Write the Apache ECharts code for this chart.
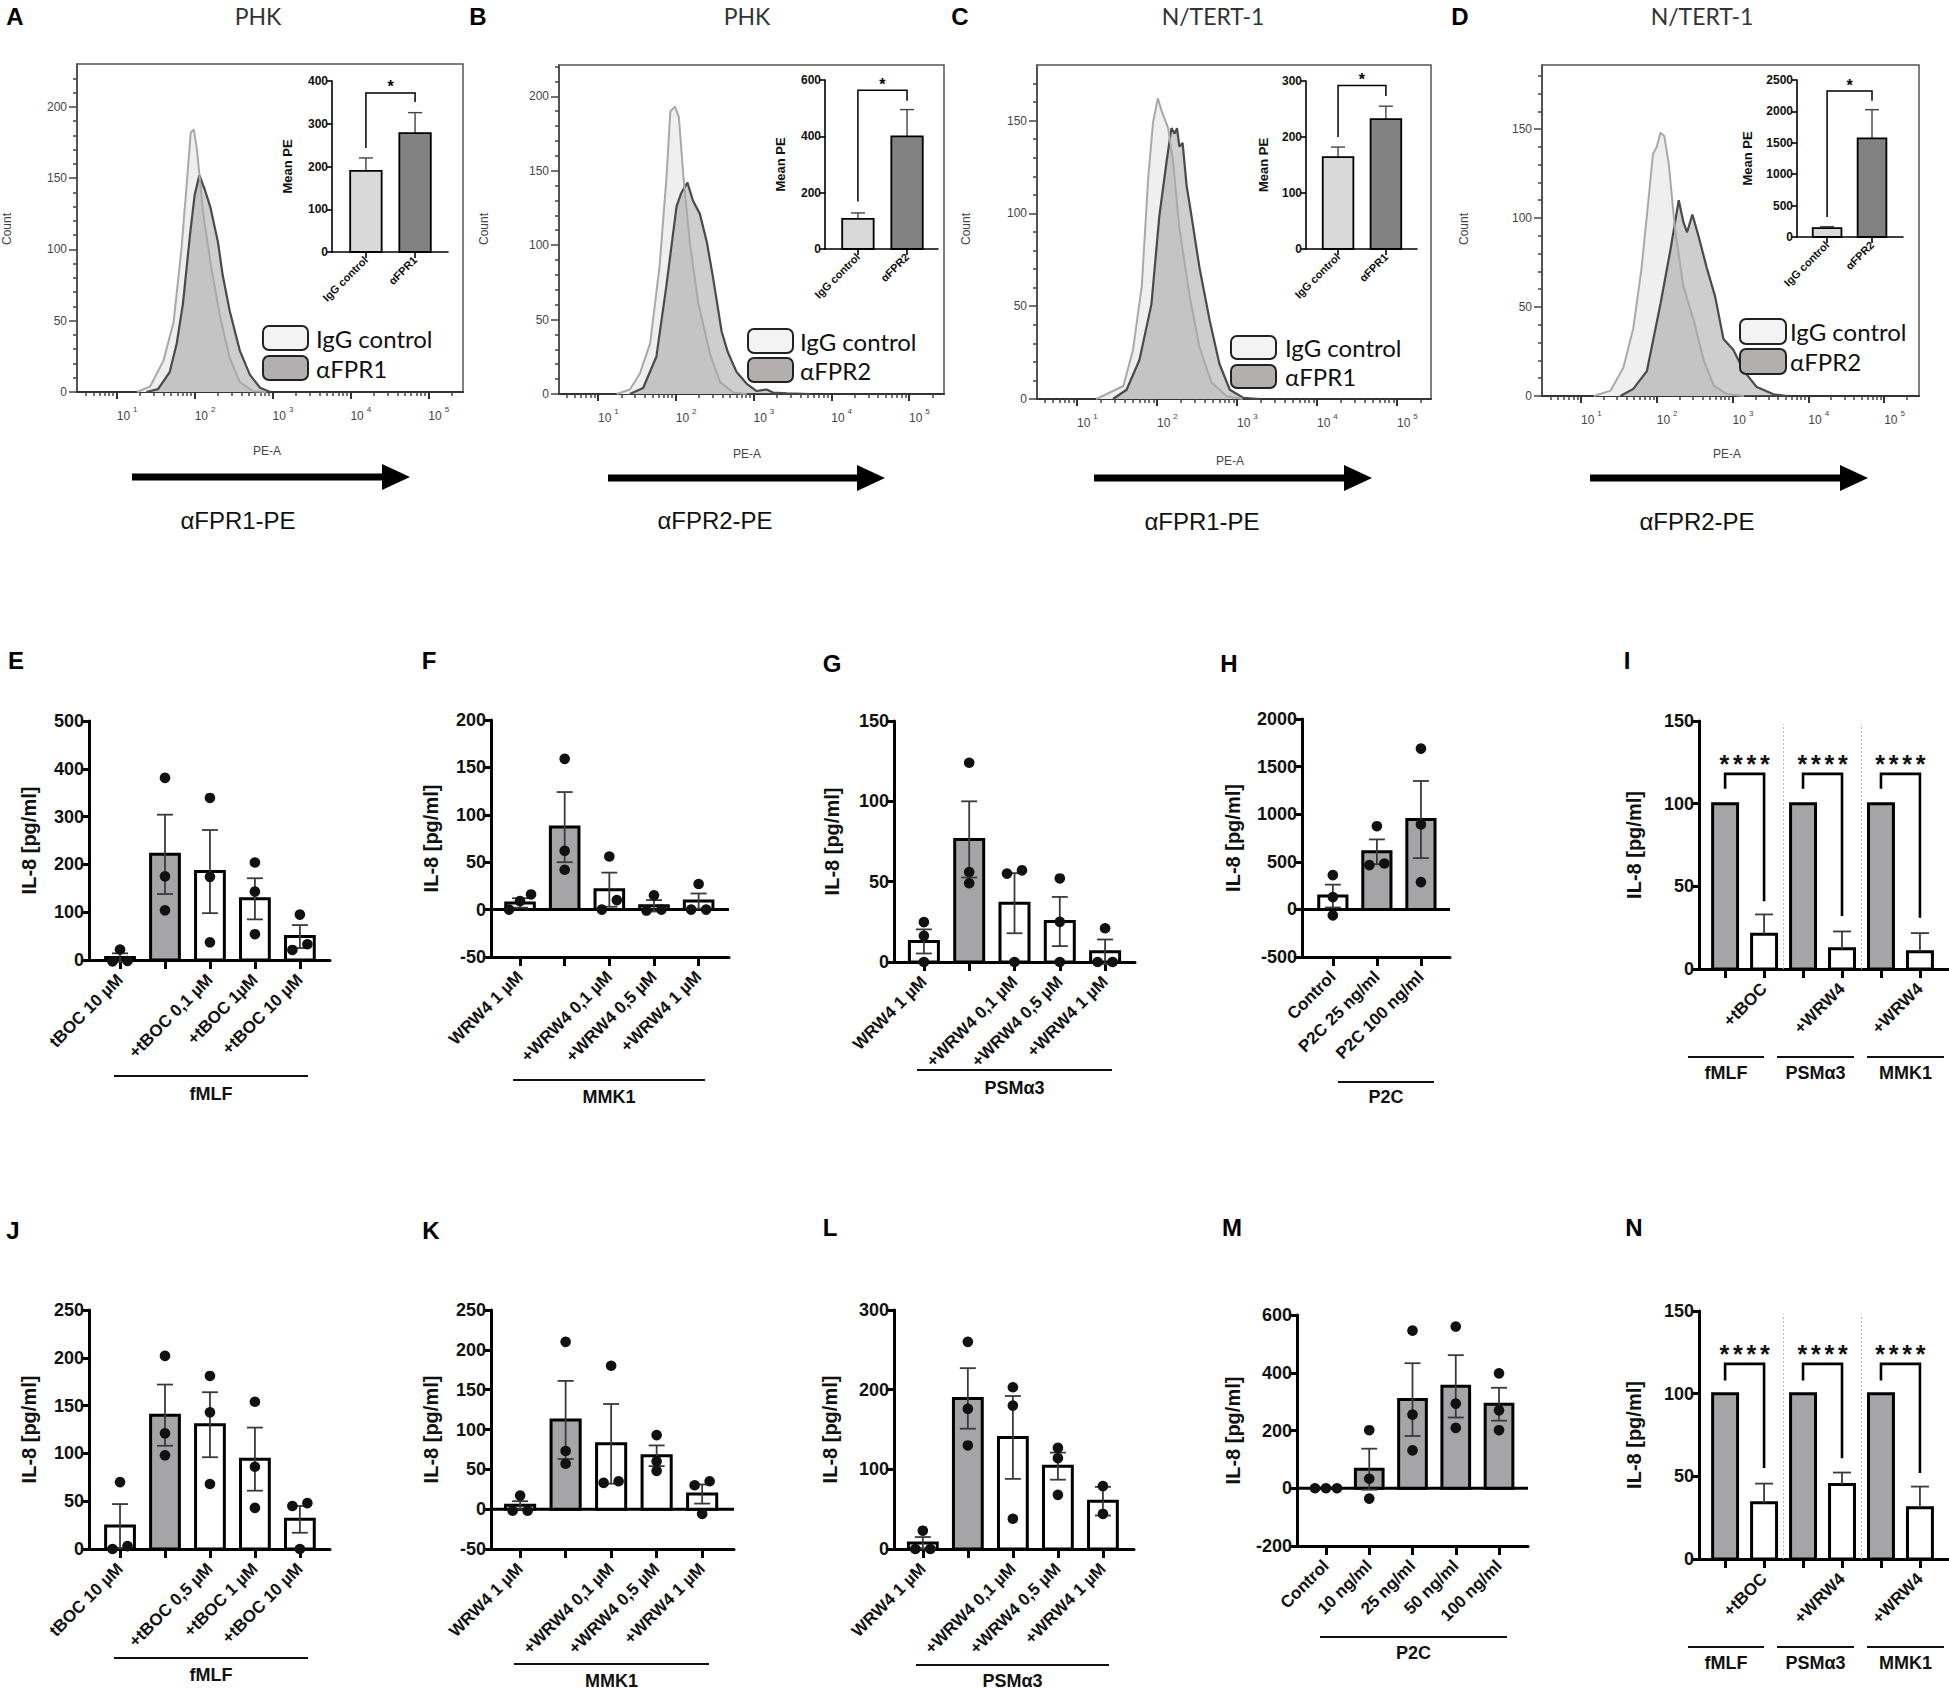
<!DOCTYPE html>
<html><head><meta charset="utf-8">
<script src="https://cdn.jsdelivr.net/npm/echarts@6/dist/echarts.min.js"></script>
<style>html,body{margin:0;padding:0;background:#fff}#c{width:1949px;height:1694px}</style>
</head><body><div id="c"></div>
<script>
// ================= DATA =================
// Flow-cytometry histograms: [log10(PE-A), Count]
const histA_IgG  = [[1.26,0],[1.43,4],[1.6,22],[1.73,49],[1.83,100],[1.89,140],[1.95,182],[1.99,184],[2.03,170],[2.11,125],[2.22,85],[2.33,52],[2.45,24],[2.58,7],[2.75,0.5],[2.92,0]];
const histA_FPR1 = [[1.38,0],[1.53,2],[1.68,14],[1.77,34],[1.85,62],[1.94,110],[2.0,138],[2.06,152],[2.13,142],[2.2,130],[2.3,105],[2.36,82],[2.45,57],[2.58,29],[2.71,12],[2.84,3],[2.97,0]];
const histB_IgG  = [[1.24,0],[1.41,3],[1.54,14],[1.67,34],[1.79,85],[1.88,145],[1.93,190],[1.99,193],[2.04,186],[2.1,145],[2.18,102],[2.29,61],[2.44,27],[2.57,8],[2.74,1],[2.91,0]];
const histB_FPR2 = [[1.41,0],[1.58,4],[1.75,25],[1.88,73],[2.01,126],[2.07,135],[2.15,142],[2.22,130],[2.31,121],[2.4,102],[2.48,78],[2.59,42],[2.67,28],[2.78,15],[2.91,7],[3.04,2],[3.17,3],[3.25,1],[3.43,0.5],[3.73,0]];
const histC_IgG  = [[1.24,0],[1.41,3.5],[1.58,7],[1.7,26.5],[1.81,61],[1.89,119],[1.95,149],[2.01,162],[2.06,155],[2.14,146],[2.2,128],[2.28,92],[2.41,55],[2.53,28],[2.68,9],[2.87,1.5],[3.07,0]];
const histC_FPR1 = [[1.45,0],[1.62,5],[1.78,21],[1.93,51],[2.03,99],[2.12,128],[2.18,146],[2.22,143],[2.25,146],[2.28,136],[2.32,138],[2.37,115],[2.43,99],[2.53,71],[2.66,42],[2.78,19],[2.91,5],[3.08,0.6],[3.28,0]];
const histD_IgG  = [[1.17,0],[1.39,3],[1.56,16],[1.69,38],[1.8,72],[1.89,110],[1.95,136],[2.0,140],[2.05,148],[2.1,146],[2.16,130],[2.24,94],[2.35,62],[2.49,42],[2.62,20],[2.75,6],[2.93,1],[3.15,0]];
const histD_FPR2 = [[1.52,0],[1.69,4],[1.87,14],[2.05,52],[2.18,82],[2.29,110],[2.35,98],[2.4,92],[2.47,102],[2.55,90],[2.66,72],[2.77,56],[2.88,32],[3.01,26],[3.15,14],[3.32,5],[3.54,1],[3.72,0]];
const histDecades = [1, 2, 3, 4, 5];
const histYTicksAB = [0, 50, 100, 150, 200];
const histYTicksCD = [0, 50, 100, 150];

// Inset bar charts (Mean PE)
const insetA_categories = ['IgG control', 'αFPR1'];
const insetA_mean = [190, 278];
const insetA_err = [30, 48];
const insetA_sig = [372, 243, 351];
const insetB_categories = ['IgG control', 'αFPR2'];
const insetB_mean = [107, 400];
const insetB_err = [21, 95];
const insetB_sig = [564, 169, 526];
const insetC_categories = ['IgG control', 'αFPR1'];
const insetC_mean = [164, 232];
const insetC_err = [18, 23];
const insetC_sig = [292, 200, 273];
const insetD_categories = ['IgG control', 'αFPR2'];
const insetD_mean = [140, 1572];
const insetD_err = [25, 455];
const insetD_sig = [2323, 319, 2170];

// IL-8 bar charts
const E_categories = ['tBOC 10 µM', '', '+tBOC 0,1 µM', '+tBOC 1µM', '+tBOC 10 µM'];
const E_mean = [5, 221, 185, 128, 49];
const E_sem = [9, 83, 87, 43, 24];
const E_points = [[22, -2, -3], [381, 175, 104], [339, 174, 37], [204, 143, 54], [95, 21, 33]];

const F_categories = ['WRW4 1 µM', '', '+WRW4 0,1 µM', '+WRW4 0,5 µM', '+WRW4 1 µM'];
const F_mean = [7, 87, 21, 4, 9];
const F_sem = [5, 37, 18, 6, 8];
const F_points = [[16, 9, 0], [159, 62, 42], [56, 10, 0], [15, 0, -1], [27, 0, 0]];

const G_categories = ['WRW4 1 µM', '', '+WRW4 0,1 µM', '+WRW4 0,5 µM', '+WRW4 1 µM'];
const G_mean = [12.8, 76.3, 36.6, 25.2, 6.4];
const G_sem = [7.5, 23.7, 18.7, 15.3, 7.6];
const G_points = [[24.8, 16.3, 0], [124, 56, 49], [57, 55, 0], [52, 25, 0], [21, 0, 0]];

const H_categories = ['Control', 'P2C 25 ng/ml', 'P2C 100 ng/ml'];
const H_mean = [140, 605, 944];
const H_sem = [120, 130, 405];
const H_points = [[360, 129, -63], [874, 465, 482], [1689, 892, 287]];

const I_categories = ['', '+tBOC', '', '+WRW4', '', '+WRW4'];
const I_mean = [100, 21, 100, 12.3, 100, 10.5];
const I_sem = [0, 12, 0, 10.4, 0, 11.2];
const I_sig = [[0, 1, 118, 109, 41], [2, 3, 118, 109, 32], [4, 5, 118, 109, 31]];

const J_categories = ['tBOC 10 µM', '', '+tBOC 0,5 µM', '+tBOC 1 µM', '+tBOC 10 µM'];
const J_mean = [24, 140, 130, 94, 31];
const J_sem = [23, 32, 34, 33, 14];
const J_points = [[70, 0, 3], [202, 121, 98], [181, 143, 68], [154, 86, 43], [48, 45, 0]];

const K_categories = ['WRW4 1 µM', '', '+WRW4 0,1 µM', '+WRW4 0,5 µM', '+WRW4 1 µM'];
const K_mean = [5, 112, 82, 67, 19];
const K_sem = [5, 49, 50, 13, 12];
const K_points = [[17, -2, -2], [210, 73, 57], [180, 33, 35], [93, 60, 48], [35, 30, -6]];

const L_categories = ['WRW4 1 µM', '', '+WRW4 0,1 µM', '+WRW4 0,5 µM', '+WRW4 1 µM'];
const L_mean = [7.5, 189, 140, 104, 60];
const L_sem = [7.5, 38, 52, 17, 18];
const L_points = [[23, 0, 0], [260, 176, 130], [203, 180, 38], [127, 114, 68], [79, 44]];

const M_categories = ['Control', '10 ng/ml', '25 ng/ml', '50 ng/ml', '100 ng/ml'];
const M_mean = [0, 66, 307, 353, 291];
const M_sem = [0, 71, 126, 108, 57];
const M_points = [[0, 0, 0], [201, 33, -36], [546, 255, 131], [560, 293, 209], [398, 270, 201]];

const N_categories = ['', '+tBOC', '', '+WRW4', '', '+WRW4'];
const N_mean = [100, 34, 100, 45, 100, 31];
const N_sem = [0, 11.6, 0, 7.3, 0, 12.8];
const N_sig = [[0, 1, 118, 108, 55], [2, 3, 118, 108, 61], [4, 5, 118, 108, 52]];

// ================= STYLE / LAYOUT =================
const FONT = "'Liberation Sans', Arial, Helvetica, sans-serif";
const FONT_C = "Lato, 'Open Sans', 'Noto Sans', sans-serif";
const GRAY = '#a5a5a8';
const option = {animation:false, backgroundColor:'#fff', textStyle:{fontFamily:FONT}, grid:[], xAxis:[], yAxis:[], series:[], graphic:{elements:[]}};
const GE = option.graphic.elements;
const plain = v => String(v);

function txt(x, y, text, font, extra) {
  const el = {type:'text', x:x, y:y, silent:true, z:100,
    style:{text:text, font:font, fill:'#000', align:'center', verticalAlign:'middle', textAlign:'center', textVerticalAlign:'middle'}};
  if (extra) { if (extra.style) Object.assign(el.style, extra.style); if (extra.rotation !== undefined) el.rotation = extra.rotation; }
  GE.push(el);
}
function hline(x1, x2, y, w, color) {
  GE.push({type:'line', silent:true, z:100, shape:{x1:x1, y1:y, x2:x2, y2:y}, style:{stroke:color || '#111', lineWidth:w || 2}});
}
function arrow(x1, x2, y) {
  const hx = x2 - 28;
  GE.push({type:'polygon', silent:true, z:100, shape:{points:[[x1, y-3.5], [hx, y-3.5], [hx, y-13], [x2, y], [hx, y+13], [hx, y+3.5], [x1, y+3.5]]}, style:{fill:'#000'}});
}
function minorLog(min, max) {
  const out = [];
  for (let n = 0; n <= 5; n++) for (let k = 2; k <= 9; k++) { const v = n + Math.log10(k); if (v > min && v < max) out.push(v); }
  return out;
}
function minorLin(max, step, majors) {
  const out = [];
  for (let v = step; v < max; v += step) if (majors.indexOf(v) < 0) out.push(v);
  return out;
}

// ---------- histogram panels ----------
function histPanel(h) {
  const g = option.grid.length;
  option.grid.push({left:h.left, top:h.top, width:h.right - h.left, height:h.bottom - h.top, show:true, borderColor:'#555', borderWidth:1.5, backgroundColor:'rgba(0,0,0,0)'});
  const xi = option.xAxis.length, yi = option.yAxis.length;
  const tickStyle = {color:'#444', width:1.5};
  option.xAxis.push({gridIndex:g, type:'value', min:h.xmin, max:h.xmax, position:'bottom',
    axisLine:{show:true, onZero:false, lineStyle:{color:'#333', width:2}},
    axisTick:{show:true, customValues:histDecades, length:7, lineStyle:{color:'#333', width:2}},
    axisLabel:{show:true, customValues:histDecades, formatter:v => '{b|10}{s|' + v + '}', align:'left', margin:13,
      rich:{b:{fontSize:12, color:'#444', fontFamily:FONT, padding:[5,3,0,0]}, s:{fontSize:8, color:'#444', fontFamily:FONT, verticalAlign:'top'}}},
    splitLine:{show:false}});
  option.xAxis.push({gridIndex:g, type:'value', min:h.xmin, max:h.xmax, position:'bottom',
    axisLine:{show:false}, axisTick:{show:true, customValues:minorLog(h.xmin, h.xmax), length:4, lineStyle:tickStyle},
    axisLabel:{show:false}, splitLine:{show:false}});
  option.yAxis.push({gridIndex:g, type:'value', min:0, max:h.ymax, position:'left',
    axisLine:{show:true, onZero:false, lineStyle:{color:'#444', width:1.5}},
    axisTick:{show:true, customValues:h.yTicks, length:8, lineStyle:tickStyle},
    axisLabel:{show:true, customValues:h.yTicks, fontSize:12, color:'#444', fontFamily:FONT, margin:10},
    splitLine:{show:false}});
  option.yAxis.push({gridIndex:g, type:'value', min:0, max:h.ymax, position:'left',
    axisLine:{show:false}, axisTick:{show:true, customValues:minorLin(h.ymax, 10, h.yTicks), length:4, lineStyle:tickStyle},
    axisLabel:{show:false}, splitLine:{show:false}});
  option.series.push({type:'line', xAxisIndex:xi, yAxisIndex:yi, data:h.igg, symbol:'none', silent:true, z:2,
    lineStyle:{opacity:0}, areaStyle:{color:'#efefef', opacity:1}});
  option.series.push({type:'line', xAxisIndex:xi, yAxisIndex:yi, data:h.fpr, symbol:'none', silent:true, z:3,
    lineStyle:{color:'#4a4a4a', width:2.2}, areaStyle:{color:'rgba(125,125,125,0.38)', opacity:1}});
  option.series.push({type:'line', xAxisIndex:xi, yAxisIndex:yi, data:h.igg, symbol:'none', silent:true, z:4,
    lineStyle:{color:'#a9a9a9', width:2}});
  txt(h.countX, h.countY, 'Count', '12px ' + FONT, {rotation:Math.PI / 2, style:{fill:'#444'}});
  txt(h.peX, h.peY, 'PE-A', '12px ' + FONT, {style:{fill:'#444'}});
  arrow(h.arX1, h.arX2, h.arY);
  txt(h.bigX, h.bigY, h.big, '24px ' + FONT, {style:{fill:'#111'}});
  txt(h.titleX, 16, h.title, '23px ' + FONT_C, {style:{fill:'#333'}});
  const lg = h.legend;
  GE.push({type:'rect', silent:true, z:100, shape:{x:lg.x, y:lg.y1, width:lg.w, height:lg.h, r:6}, style:{fill:'#f3f3f3', stroke:'#222', lineWidth:2}});
  GE.push({type:'rect', silent:true, z:100, shape:{x:lg.x, y:lg.y2, width:lg.w, height:lg.h, r:6}, style:{fill:'#b3afaf', stroke:'#222', lineWidth:2}});
  txt(lg.tx, lg.y1 + lg.h / 2, 'IgG control', '24px ' + FONT_C, {style:{align:'left', textAlign:'left', fill:'#111'}});
  txt(lg.tx, lg.y2 + lg.h / 2, h.legName, '24px ' + FONT_C, {style:{align:'left', textAlign:'left', fill:'#111'}});
}

// ---------- inset bar charts ----------
function insetPanel(q) {
  const g = option.grid.length;
  option.grid.push({left:q.left, top:q.top, width:q.right - q.left, height:q.bottom - q.top});
  const xi = option.xAxis.length, yi = option.yAxis.length;
  option.xAxis.push({gridIndex:g, type:'value', min:q.xmin, max:q.xmax,
    axisLine:{show:true, onZero:false, lineStyle:{color:'#000', width:1.6}},
    axisTick:{show:true, customValues:[0, 1], length:6, lineStyle:{color:'#000', width:1.6}},
    axisLabel:{show:true, customValues:[0, 1], formatter:v => q.cats[Math.round(v)], rotate:45, fontFamily:FONT, fontWeight:'bold', fontSize:11, color:'#111', margin:6},
    splitLine:{show:false}});
  option.yAxis.push({gridIndex:g, type:'value', min:0, max:q.ymax, interval:q.interval,
    axisLine:{show:true, onZero:false, lineStyle:{color:'#000', width:1.6}},
    axisTick:{show:true, length:5, lineStyle:{color:'#000', width:1.6}},
    axisLabel:{fontFamily:FONT, fontWeight:'bold', fontSize:12, color:'#111', margin:4, formatter:plain},
    splitLine:{show:false},
    name:'Mean PE', nameLocation:'middle', nameGap:q.nameGap, nameTextStyle:{fontFamily:FONT, fontWeight:'bold', fontSize:13, color:'#111'}});
  const fills = ['#d9d9d9', '#828282'];
  option.series.push({type:'custom', xAxisIndex:xi, yAxisIndex:yi, silent:true, z:5,
    data:q.mean.map((m, i) => [i, m, q.err[i]]),
    renderItem:function(params, api) {
      const i = api.value(0), m = api.value(1), e = api.value(2);
      const b = api.coord([i, 0]), t = api.coord([i, m]), hi = api.coord([i, m + e]);
      const hw = api.size([0.64, 0])[0] / 2;
      return {type:'group', children:[
        {type:'line', shape:{x1:b[0], y1:t[1], x2:b[0], y2:hi[1]}, style:{stroke:'#444', lineWidth:1.4}},
        {type:'line', shape:{x1:b[0] - 7, y1:hi[1], x2:b[0] + 7, y2:hi[1]}, style:{stroke:'#444', lineWidth:1.4}},
        {type:'rect', shape:{x:b[0] - hw, y:t[1], width:hw * 2, height:b[1] - t[1]}, style:{fill:fills[i], stroke:'#000', lineWidth:1.8}}
      ]};
    }});
  option.series.push({type:'custom', xAxisIndex:xi, yAxisIndex:yi, silent:true, z:6,
    data:[[0, 1, q.sig[0], q.sig[1], q.sig[2]]],
    renderItem:function(params, api) {
      const p1 = api.coord([api.value(0), api.value(3)]), p2 = api.coord([api.value(0), api.value(2)]);
      const p3 = api.coord([api.value(1), api.value(2)]), p4 = api.coord([api.value(1), api.value(4)]);
      return {type:'group', children:[
        {type:'polyline', shape:{points:[p1, p2, p3, p4]}, style:{stroke:'#000', lineWidth:1.5, fill:null}},
        {type:'text', x:(p2[0] + p3[0]) / 2, y:p2[1] - 6, style:{text:'*', font:'bold 16px ' + FONT, fill:'#000', align:'center', verticalAlign:'middle', textAlign:'center', textVerticalAlign:'middle'}}
      ]};
    }});
}

// ---------- IL-8 bar panels ----------
function barPanel(p) {
  const g = option.grid.length;
  option.grid.push({left:p.left, top:p.top, width:p.right - p.left, height:p.bottom - p.top});
  const xi = option.xAxis.length, yi = option.yAxis.length;
  const idx = p.cats.map((c, i) => i);
  option.xAxis.push({gridIndex:g, type:'value', min:p.xmin, max:p.xmax,
    axisLine:{show:true, onZero:false, lineStyle:{color:'#000', width:3}},
    axisTick:{show:true, customValues:idx, length:9, lineStyle:{color:'#000', width:3}},
    axisLabel:{show:true, customValues:idx, formatter:v => p.cats[Math.round(v)], rotate:45, fontFamily:FONT, fontWeight:'bold', fontSize:17, color:'#111', margin:17},
    splitLine:{show:false}});
  option.yAxis.push({gridIndex:g, type:'value', min:p.ymin, max:p.ymax, interval:p.interval,
    axisLine:{show:true, onZero:false, lineStyle:{color:'#000', width:3}},
    axisTick:{show:true, length:8, lineStyle:{color:'#000', width:3}},
    axisLabel:{fontFamily:FONT, fontWeight:'bold', fontSize:18, color:'#111', margin:5, formatter:plain},
    splitLine:{show:false},
    name:'IL-8 [pg/ml]', nameLocation:'middle', nameGap:p.nameGap, nameTextStyle:{fontFamily:FONT, fontWeight:'bold', fontSize:20, color:'#111'}});
  if (p.ymin < 0) {
    option.series.push({type:'line', xAxisIndex:xi, yAxisIndex:yi, data:[[p.xmin, 0], [p.xmax, 0]], symbol:'none', silent:true, z:3,
      lineStyle:{color:'#000', width:3}});
  }
  if (p.separators) {
    option.series.push({type:'custom', xAxisIndex:xi, yAxisIndex:yi, silent:true, z:1,
      data:p.separators.map(v => [v, 148]),
      renderItem:function(params, api) {
        const a = api.coord([api.value(0), 0]), b = api.coord([api.value(0), api.value(1)]);
        return {type:'line', shape:{x1:a[0], y1:a[1], x2:b[0], y2:b[1]}, style:{stroke:'#b5b5b5', lineWidth:1, lineDash:[2, 2]}};
      }});
  }
  const pts = p.points;
  option.series.push({type:'custom', xAxisIndex:xi, yAxisIndex:yi, silent:true, z:5,
    data:p.mean.map((m, i) => [i, m, p.sem[i]]),
    renderItem:function(params, api) {
      const i = api.value(0), m = api.value(1), s = api.value(2);
      const b = api.coord([i, 0]), t = api.coord([i, m]);
      const hw = api.size([0.64, 0])[0] / 2;
      const ch = [];
      ch.push({type:'rect', shape:{x:b[0] - hw, y:Math.min(b[1], t[1]), width:hw * 2, height:Math.abs(b[1] - t[1])},
        style:{fill:p.gray.indexOf(i) >= 0 ? GRAY : '#fff', stroke:'#000', lineWidth:3}});
      if (s > 0) {
        const hi = api.coord([i, m + s])[1];
        const lo = p.oneSided ? t[1] : api.coord([i, m - s])[1];
        const cw = p.oneSided ? 9 : 8;
        const st = {stroke:'#3a3a3a', lineWidth:1.8};
        ch.push({type:'line', shape:{x1:b[0], y1:lo, x2:b[0], y2:hi}, style:st});
        ch.push({type:'line', shape:{x1:b[0] - cw, y1:hi, x2:b[0] + cw, y2:hi}, style:st});
        if (!p.oneSided) ch.push({type:'line', shape:{x1:b[0] - cw, y1:lo, x2:b[0] + cw, y2:lo}, style:st});
      }
      if (pts) {
        const ys = pts[params.dataIndex].map(v => api.coord([i, v])[1]);
        const order = ys.map((y, k) => k).sort((a, c) => ys[c] - ys[a]);
        const clusters = [];
        order.forEach(k => {
          const last = clusters[clusters.length - 1];
          if (last && Math.abs(ys[k] - ys[last[last.length - 1]]) < 9.5) last.push(k); else clusters.push([k]);
        });
        clusters.forEach(cl => {
          const n = cl.length, sp = n === 2 ? 15 : 11;
          cl.forEach((k, j) => {
            ch.push({type:'circle', shape:{cx:b[0] + (j - (n - 1) / 2) * sp, cy:ys[k], r:5.3}, style:{fill:'#111'}});
          });
        });
      }
      return {type:'group', children:ch};
    }});
  if (p.sig) {
    option.series.push({type:'custom', xAxisIndex:xi, yAxisIndex:yi, silent:true, z:6,
      data:p.sig,
      renderItem:function(params, api) {
        const p1 = api.coord([api.value(0), api.value(3)]), p2 = api.coord([api.value(0), api.value(2)]);
        const p3 = api.coord([api.value(1), api.value(2)]), p4 = api.coord([api.value(1), api.value(4)]);
        const ch = [{type:'polyline', shape:{points:[p1, p2, p3, p4]}, style:{stroke:'#000', lineWidth:2.6, fill:null}}];
        const cx = (p2[0] + p3[0]) / 2;
        for (let k = 0; k < 4; k++) {
          ch.push({type:'text', x:cx + (k - 1.5) * 13.5, y:p2[1] - 10, style:{text:'*', font:'bold 25px ' + FONT, fill:'#111', align:'center', verticalAlign:'middle', textAlign:'center', textVerticalAlign:'middle'}});
        }
        return {type:'group', children:ch};
      }});
  }
  txt(p.letter[1], p.letter[2], p.letter[0], 'bold 24px ' + FONT);
  (p.groups || []).forEach(gr => {
    hline(gr[1], gr[2], gr[3], 2.2, '#111');
    txt((gr[1] + gr[2]) / 2, gr[4], gr[0], 'bold 18px ' + FONT, {style:{fill:'#111'}});
  });
}

// ---------- build ----------
histPanel({left:77, right:463, top:64, bottom:392, xmin:0.49, xmax:5.445, ymax:230, yTicks:histYTicksAB, igg:histA_IgG, fpr:histA_FPR1,
  countX:7, countY:229, peX:267, peY:451, arX1:132, arX2:410, arY:477, big:'αFPR1-PE', bigX:238, bigY:520, title:'PHK', titleX:258,
  legName:'αFPR1', legend:{x:263, y1:326, y2:356, w:45, h:24, tx:316}});
histPanel({left:559, right:944, top:65, bottom:394, xmin:0.498, xmax:5.45, ymax:221, yTicks:histYTicksAB, igg:histB_IgG, fpr:histB_FPR2,
  countX:484, countY:229, peX:747, peY:454, arX1:608, arX2:885, arY:478, big:'αFPR2-PE', bigX:715, bigY:520, title:'PHK', titleX:747,
  legName:'αFPR2', legend:{x:748, y1:329, y2:358, w:45, h:24, tx:800}});
histPanel({left:1037, right:1431, top:65, bottom:399, xmin:0.5, xmax:5.425, ymax:180, yTicks:histYTicksCD, igg:histC_IgG, fpr:histC_FPR1,
  countX:966, countY:229, peX:1230, peY:461, arX1:1094, arX2:1372, arY:478, big:'αFPR1-PE', bigX:1202, bigY:521, title:'N/TERT-1', titleX:1213,
  legName:'αFPR1', legend:{x:1231, y1:336, y2:365, w:45, h:23, tx:1285}});
histPanel({left:1542, right:1919, top:65, bottom:396, xmin:0.486, xmax:5.46, ymax:186, yTicks:histYTicksCD, igg:histD_IgG, fpr:histD_FPR2,
  countX:1464, countY:229, peX:1727, peY:454, arX1:1590, arX2:1868, arY:478, big:'αFPR2-PE', bigX:1697, bigY:521, title:'N/TERT-1', titleX:1702,
  legName:'αFPR2', legend:{x:1740, y1:319, y2:349, w:46, h:25, tx:1790}});

insetPanel({left:332, right:448, top:81, bottom:252, xmin:-0.69, xmax:1.67, ymax:400, interval:100, nameGap:38,
  cats:insetA_categories, mean:insetA_mean, err:insetA_err, sig:insetA_sig});
insetPanel({left:825, right:938, top:80, bottom:249, xmin:-0.67, xmax:1.63, ymax:600, interval:200, nameGap:38,
  cats:insetB_categories, mean:insetB_mean, err:insetB_err, sig:insetB_sig});
insetPanel({left:1306, right:1417, top:81, bottom:249, xmin:-0.67, xmax:1.65, ymax:300, interval:100, nameGap:36,
  cats:insetC_categories, mean:insetC_mean, err:insetC_err, sig:insetC_sig});
insetPanel({left:1797, right:1903, top:80, bottom:237, xmin:-0.67, xmax:1.69, ymax:2500, interval:500, nameGap:43,
  cats:insetD_categories, mean:insetD_mean, err:insetD_err, sig:insetD_sig});

txt(15, 16, 'A', 'bold 24px ' + FONT);
txt(478, 16, 'B', 'bold 24px ' + FONT);
txt(960, 16, 'C', 'bold 24px ' + FONT);
txt(1460, 16, 'D', 'bold 24px ' + FONT);

barPanel({cats:E_categories, mean:E_mean, sem:E_sem, points:E_points, gray:[1], left:89, top:721, right:330, bottom:960, xmin:-0.69, xmax:4.67, ymin:0, ymax:500, interval:100, nameGap:50,
  letter:['E', 16, 660], groups:[['fMLF', 114, 308, 1076, 1094]]});
barPanel({cats:F_categories, mean:F_mean, sem:F_sem, points:F_points, gray:[1], left:491, top:720, right:729, bottom:957, xmin:-0.65, xmax:4.68, ymin:-50, ymax:200, interval:50, nameGap:50,
  letter:['F', 429, 660], groups:[['MMK1', 513, 705, 1080, 1097]]});
barPanel({cats:G_categories, mean:G_mean, sem:G_sem, points:G_points, gray:[1], left:894, top:721, right:1135, bottom:962, xmin:-0.66, xmax:4.66, ymin:0, ymax:150, interval:50, nameGap:52,
  letter:['G', 832, 663], groups:[['PSMα3', 917, 1112, 1070, 1088]]});
barPanel({cats:H_categories, mean:H_mean, sem:H_sem, points:H_points, gray:[1, 2], left:1302, top:719, right:1450, bottom:957, xmin:-0.70, xmax:2.66, ymin:-500, ymax:2000, interval:500, nameGap:59,
  letter:['H', 1229, 663], groups:[['P2C', 1338, 1434, 1082, 1097]]});
barPanel({cats:I_categories, mean:I_mean, sem:I_sem, gray:[0, 2, 4], oneSided:true, sig:I_sig, separators:[1.5, 3.5], left:1699, top:721, right:1948, bottom:969, xmin:-0.67, xmax:5.72, ymin:0, ymax:150, interval:50, nameGap:55,
  letter:['I', 1627, 660], groups:[['fMLF', 1688, 1764, 1057, 1073], ['PSMα3', 1777, 1854, 1057, 1073], ['MMK1', 1867, 1944, 1057, 1073]]});
barPanel({cats:J_categories, mean:J_mean, sem:J_sem, points:J_points, gray:[1], left:89, top:1310, right:330, bottom:1549, xmin:-0.69, xmax:4.67, ymin:0, ymax:250, interval:50, nameGap:50,
  letter:['J', 13, 1230], groups:[['fMLF', 114, 308, 1658, 1675]]});
barPanel({cats:K_categories, mean:K_mean, sem:K_sem, points:K_points, gray:[1], left:491, top:1310, right:734, bottom:1549, xmin:-0.64, xmax:4.70, ymin:-50, ymax:250, interval:50, nameGap:50,
  letter:['K', 431, 1230], groups:[['MMK1', 514, 709, 1664, 1681]]});
barPanel({cats:L_categories, mean:L_mean, sem:L_sem, points:L_points, gray:[1], left:894, top:1310, right:1134, bottom:1549, xmin:-0.64, xmax:4.69, ymin:0, ymax:300, interval:100, nameGap:54,
  letter:['L', 830, 1227], groups:[['PSMα3', 916, 1109, 1665, 1681]]});
barPanel({cats:M_categories, mean:M_mean, sem:M_sem, points:M_points, gray:[1, 2, 3, 4], left:1297, top:1315, right:1528, bottom:1546, xmin:-0.67, xmax:4.67, ymin:-200, ymax:600, interval:200, nameGap:54,
  letter:['M', 1232, 1227], groups:[['P2C', 1320, 1507, 1637, 1653]]});
barPanel({cats:N_categories, mean:N_mean, sem:N_sem, gray:[0, 2, 4], oneSided:true, sig:N_sig, separators:[1.5, 3.5], left:1699, top:1311, right:1948, bottom:1559, xmin:-0.67, xmax:5.72, ymin:0, ymax:150, interval:50, nameGap:55,
  letter:['N', 1634, 1227], groups:[['fMLF', 1688, 1764, 1647, 1663], ['PSMα3', 1777, 1854, 1647, 1663], ['MMK1', 1867, 1944, 1647, 1663]]});

const chart = echarts.init(document.getElementById('c'), null, {renderer:'svg', width:1949, height:1694});
chart.setOption(option);
</script>
</body></html>
